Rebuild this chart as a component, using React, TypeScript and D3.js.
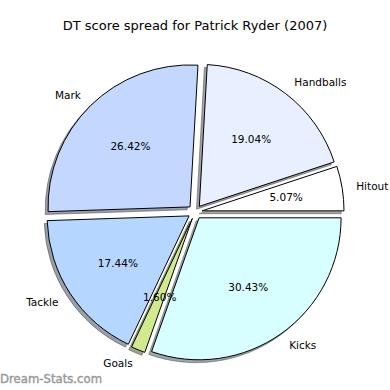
import React from "react";
import * as d3 from "d3";

const categories = ["Hitout", "Handballs", "Mark", "Tackle", "Goals", "Kicks"];
const values = [5.07, 19.04, 26.42, 17.44, 1.6, 30.43];
const colors = ["#ffffff", "#e8f0ff", "#c4d8ff", "#b4d6ff", "#d0ea8c", "#d8ffff"];
const title = "DT score spread for Patrick Ryder (2007)";
const watermark = "Dream-Stats.com";

const W = 390;
const H = 390;
const CX = 195;
const CY = 212;
const R = 142;
const EXPLODE = 0.05;
const FONT = "DejaVu Sans, sans-serif";

function shade(c: string) {
  const rgb = d3.rgb(c);
  return d3.rgb(rgb.r * 0.3, rgb.g * 0.3, rgb.b * 0.3).toString();
}

export default function App() {
  const pie = d3
    .pie<number>()
    .sort(null)
    .startAngle(Math.PI / 2)
    .endAngle(Math.PI / 2 - 2 * Math.PI)(values);
  const arc = d3.arc<d3.PieArcDatum<number>>().innerRadius(0).outerRadius(R);
  const items = pie.map((d, i) => {
    const m = (d.startAngle + d.endAngle) / 2;
    const ux = Math.sin(m);
    const uy = -Math.cos(m);
    const x = CX + EXPLODE * R * ux;
    const y = CY + EXPLODE * R * uy;
    return { d, i, ux, uy, x, y };
  });
  const sh = 0.02 * R;
  return (
    <div style={{ position: "fixed", left: 0, top: 0, width: W, height: H, overflow: "hidden" }}>
      <svg width={W} height={H} style={{ display: "block", background: "#fff" }}>
        <text x={W / 2} y={30} textAnchor="middle" fontFamily={FONT} fontSize={13} fill="#000">
          {title}
        </text>
        {items.map(({ d, i, x, y }) => (
          <path
            key={"s" + i}
            d={arc(d) || ""}
            transform={`translate(${x - sh},${y + sh})`}
            fill={shade(colors[i])}
            fillOpacity={0.5}
            stroke={shade(colors[i])}
            strokeOpacity={0.5}
            strokeWidth={1}
          />
        ))}
        {items.map(({ d, i, x, y }) => (
          <path
            key={"w" + i}
            d={arc(d) || ""}
            transform={`translate(${x},${y})`}
            fill={colors[i]}
            stroke="#000"
            strokeWidth={1}
          />
        ))}
        {items.map(({ i, x, y, ux, uy }) => {
          const lx = x + 1.1 * R * ux;
          const ly = y + 1.1 * R * uy;
          return (
            <text
              key={"l" + i}
              x={lx}
              y={ly}
              textAnchor={lx > CX ? "start" : "end"}
              dominantBaseline="central"
              fontFamily={FONT}
              fontSize={10.5}
              fill="#000"
            >
              {categories[i]}
            </text>
          );
        })}
        {items.map(({ i, x, y, ux, uy }) => (
          <text
            key={"p" + i}
            x={x + 0.6 * R * ux}
            y={y + 0.6 * R * uy}
            textAnchor="middle"
            dominantBaseline="central"
            fontFamily={FONT}
            fontSize={10.5}
            fill="#000"
          >
            {values[i].toFixed(2) + "%"}
          </text>
        ))}
        <text
          x={0}
          y={383}
          fontFamily={FONT}
          fontSize={11.7}
          fill="#999"
          stroke="#999"
          strokeWidth={0.4}
        >
          {watermark}
        </text>
      </svg>
    </div>
  );
}
